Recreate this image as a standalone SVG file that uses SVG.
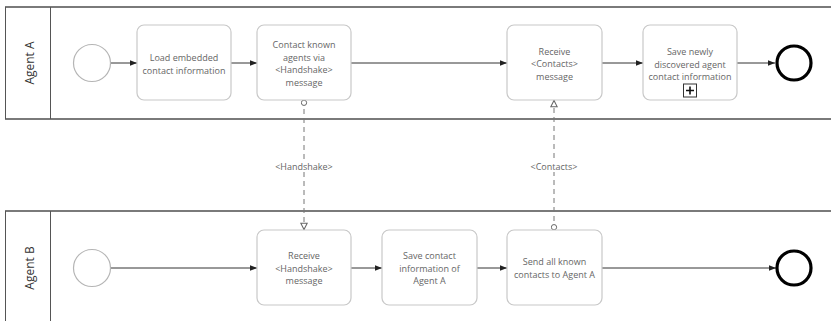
<svg xmlns="http://www.w3.org/2000/svg" width="831" height="321" viewBox="0 0 831 321">
  <defs>
    <style>
      .pool-edge { stroke: #7a7a7a; stroke-width: 2; fill: none; }
      .pool-side { stroke: #555; stroke-width: 1; fill: none; }
      .lane-label { font-family: "Open Sans", "DejaVu Sans", sans-serif; font-size: 12px; fill: #333; text-anchor: middle; dominant-baseline: central; }
      .task rect.box { fill: #fff; stroke: #c8c8c8; stroke-width: 1.2; }
      .task text, .msg-label { font-family: "Open Sans", "DejaVu Sans", sans-serif; font-size: 9px; fill: #666; text-anchor: middle; dominant-baseline: central; }
      .start { fill: #fff; stroke: #b5b5b5; stroke-width: 1.2; }
      .end { fill: #fff; stroke: #000; stroke-width: 3.2; }
      .seq { stroke: #333; stroke-width: 1; fill: none; marker-end: url(#seqArrow); }
      .msg { stroke: #777; stroke-width: 1; stroke-dasharray: 5 4; fill: none; marker-start: url(#msgStart); marker-end: url(#msgArrow); }
    </style>
    <marker id="seqArrow" viewBox="0 0 10 10" refX="10" refY="5" markerWidth="7" markerHeight="7" markerUnits="userSpaceOnUse" orient="auto">
      <path d="M0,1 L10,5 L0,9 Z" fill="#222"/>
    </marker>
    <marker id="msgArrow" viewBox="0 0 10 10" refX="9.5" refY="5" markerWidth="8" markerHeight="8" markerUnits="userSpaceOnUse" orient="auto">
      <path d="M1,1 L9,5 L1,9 Z" fill="#fff" stroke="#666" stroke-width="1.3"/>
    </marker>
    <marker id="msgStart" viewBox="0 0 10 10" refX="1" refY="5" markerWidth="7" markerHeight="7" markerUnits="userSpaceOnUse" orient="auto">
      <circle cx="5" cy="5" r="3.8" fill="#fff" stroke="#666" stroke-width="1.4"/>
    </marker>
  </defs>

  <rect width="831" height="321" fill="#fff"/>

  <!-- Pool: Agent A -->
  <g id="pool-agent-a">
    <line class="pool-edge" x1="5" y1="7" x2="831" y2="7"/>
    <line class="pool-edge" x1="5" y1="119" x2="831" y2="119"/>
    <line class="pool-side" x1="5.5" y1="7" x2="5.5" y2="119"/>
    <line class="pool-side" x1="50.5" y1="7" x2="50.5" y2="119"/>
    <text class="lane-label" transform="translate(29,63) rotate(-90)">Agent A</text>
  </g>

  <!-- Pool: Agent B -->
  <g id="pool-agent-b">
    <line class="pool-edge" x1="5" y1="211" x2="831" y2="211"/>
    <line class="pool-side" x1="5.5" y1="211" x2="5.5" y2="321"/>
    <line class="pool-side" x1="50.5" y1="211" x2="50.5" y2="321"/>
    <text class="lane-label" transform="translate(29,268) rotate(-90)">Agent B</text>
  </g>

  <!-- Connectors -->
  <g id="connectors">
    <!-- Agent A sequence flow -->
    <line class="seq" x1="111" y1="63" x2="137" y2="63"/>
    <line class="seq" x1="231" y1="63" x2="257" y2="63"/>
    <line class="seq" x1="351" y1="63" x2="507" y2="63"/>
    <line class="seq" x1="602" y1="63" x2="643" y2="63"/>
    <line class="seq" x1="737" y1="63" x2="775" y2="63"/>
    <!-- Agent B sequence flow -->
    <line class="seq" x1="111" y1="268" x2="257" y2="268"/>
    <line class="seq" x1="351" y1="268" x2="382" y2="268"/>
    <line class="seq" x1="477" y1="268" x2="507" y2="268"/>
    <line class="seq" x1="602" y1="268" x2="776" y2="268"/>
    <!-- Message flows -->
    <line class="msg" x1="304" y1="100" x2="304" y2="230"/>
    <line class="msg" x1="554" y1="230" x2="554" y2="100"/>
    <rect x="272" y="160" width="64" height="12" fill="#fff"/>
    <text class="msg-label" x="304" y="166">&lt;Handshake&gt;</text>
    <rect x="526" y="160" width="56" height="12" fill="#fff"/>
    <text class="msg-label" x="554" y="166">&lt;Contacts&gt;</text>
  </g>

  <!-- Agent A nodes -->
  <g id="start-a"><circle class="start" cx="92" cy="63" r="18.5"/></g>

  <g id="task-load-embedded" class="task">
    <rect class="box" x="137" y="25" width="94" height="75" rx="7"/>
    <text x="184" y="57">Load embedded</text>
    <text x="184" y="70">contact information</text>
  </g>

  <g id="task-contact-known" class="task">
    <rect class="box" x="257" y="25" width="94" height="75" rx="7"/>
    <text x="304" y="44">Contact known</text>
    <text x="304" y="57">agents via</text>
    <text x="304" y="69.5">&lt;Handshake&gt;</text>
    <text x="304" y="82">message</text>
  </g>

  <g id="task-receive-contacts" class="task">
    <rect class="box" x="507" y="25" width="95" height="75" rx="7"/>
    <text x="554.5" y="51">Receive</text>
    <text x="554.5" y="63.5">&lt;Contacts&gt;</text>
    <text x="554.5" y="76">message</text>
  </g>

  <g id="task-save-newly" class="task">
    <rect class="box" x="643" y="25" width="94" height="75" rx="7"/>
    <text x="690" y="51.5">Save newly</text>
    <text x="690" y="64">discovered agent</text>
    <text x="690" y="76">contact information</text>
    <rect x="683.5" y="84" width="13" height="13" fill="#fff" stroke="#333" stroke-width="1"/>
    <path d="M690,86.5 V94.5 M686,90.5 H694" stroke="#111" stroke-width="1.6"/>
  </g>

  <g id="end-a"><circle class="end" cx="794" cy="63" r="17"/></g>

  <!-- Agent B nodes -->
  <g id="start-b"><circle class="start" cx="92" cy="268" r="18.5"/></g>

  <g id="task-receive-handshake" class="task">
    <rect class="box" x="257" y="230" width="94" height="75" rx="7"/>
    <text x="304" y="255">Receive</text>
    <text x="304" y="268">&lt;Handshake&gt;</text>
    <text x="304" y="280.5">message</text>
  </g>

  <g id="task-save-contact" class="task">
    <rect class="box" x="382" y="230" width="95" height="75" rx="7"/>
    <text x="429.5" y="255">Save contact</text>
    <text x="429.5" y="268">information of</text>
    <text x="429.5" y="280.5">Agent A</text>
  </g>

  <g id="task-send-contacts" class="task">
    <rect class="box" x="507" y="230" width="95" height="75" rx="7"/>
    <text x="554.5" y="261.5">Send all known</text>
    <text x="554.5" y="274">contacts to Agent A</text>
  </g>

  <g id="end-b"><circle class="end" cx="794" cy="268" r="17"/></g>
</svg>
